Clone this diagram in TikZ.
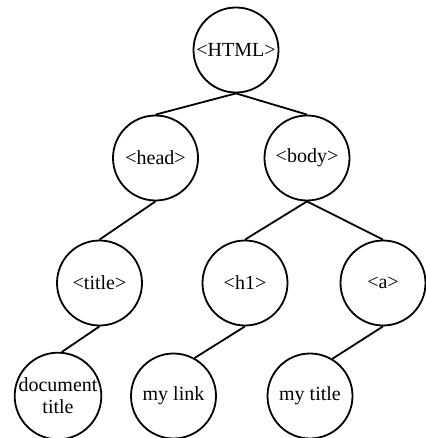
\documentclass[tikz,border=0pt]{standalone}
\usepackage{fontspec}
\setmainfont{Liberation Serif}
\begin{document}
\begin{tikzpicture}[x=1pt,y=-1pt,
  tnode/.style={circle,draw,line width=1.8pt,minimum size=85pt,inner sep=0pt,font=\fontsize{20}{22}\selectfont,align=center},
  edge/.style={line width=1.8pt}]
\useasboundingbox (0,0) rectangle (425,438);
\node[tnode] (html) at (236,50) {\kern-1pt<HTML>\kern-1pt};
\node[tnode] (head) at (155.5,158) {<head>};
\node[tnode] (body) at (307,158) {<body>};
\node[tnode] (title) at (99.5,283) {<title>};
\node[tnode] (h1) at (245,283) {<h1>};
\node[tnode] (a) at (383,283) {<a>};
\node[tnode] (doc) at (58,396) {document\\title};
\node[tnode] (link) at (173.5,396) {my link};
\node[tnode] (mytitle) at (310,396) {my title};
\draw[edge] (html.south) -- (head.north);
\draw[edge] (html.south) -- (body.north);
\draw[edge] (head.south) -- (title.north);
\draw[edge] (body.south) -- (h1.north);
\draw[edge] (body.south) -- (a.north);
\draw[edge] (title.south) -- (doc.85);
\draw[edge] (h1.south) -- (link.61);
\draw[edge] (a.south) -- (mytitle.59);
\end{tikzpicture}
\end{document}
